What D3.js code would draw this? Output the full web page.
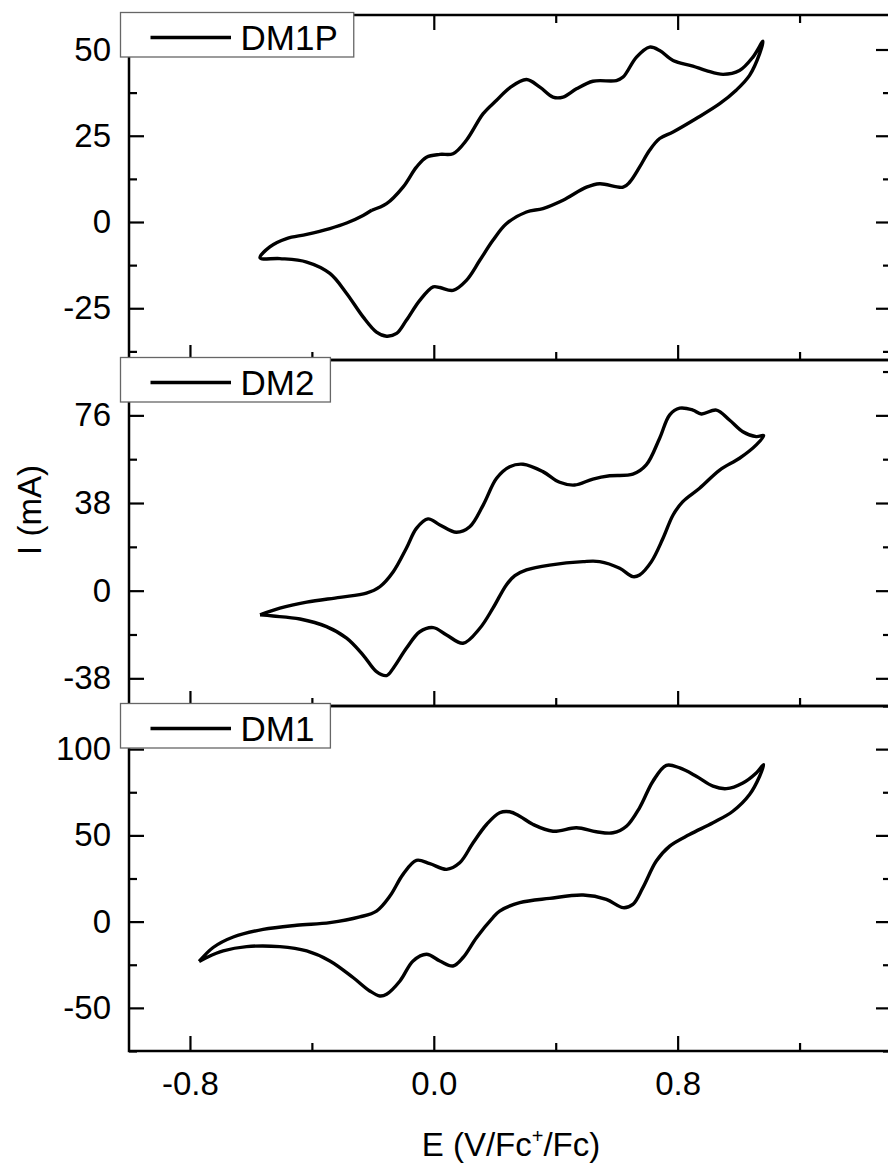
<!DOCTYPE html>
<html>
<head>
<meta charset="utf-8">
<script src="https://cdn.jsdelivr.net/npm/d3@7"></script>
<style>
  html, body { margin: 0; padding: 0; background: #fff; }
  svg { display: block; font-family: "Liberation Sans", Arial, sans-serif; }
</style>
</head>
<body>
<svg id="chart" width="888" height="1168"></svg>
<script>
// ---- data (E in V vs Fc+/Fc, I in mA) ----
const dm1pE = [-0.204,-0.155,-0.101,-0.057,-0.024,0.020,0.063,0.107,0.162,0.206,
  0.249,0.304,0.348,0.391,0.424,0.468,0.522,0.599,0.621,0.665,
  0.708,0.741,0.785,0.850,0.894,0.949,1.003,1.047,1.080,
  1.069,1.036,0.992,0.938,0.861,0.785,0.741,0.708,0.675,0.643,
  0.621,0.544,0.501,0.424,0.358,0.304,0.238,0.194,0.151,0.107,
  0.063,0.020,-0.002,-0.046,-0.090,-0.122,-0.155,-0.188,-0.232,-0.286,
  -0.341,-0.417,-0.505,-0.570,
  -0.538,-0.483,-0.417,-0.341,-0.286,-0.232,-0.204];
const dm1pI = [3.4,5.3,10.1,15.9,18.8,19.6,19.8,23.7,31.4,35.3,
  38.9,41.3,39.1,36.2,36.2,38.6,40.8,41.0,42.0,47.8,
  50.7,49.7,46.8,45.2,43.9,42.8,43.9,47.8,52.4,
  48.8,42.5,38.2,34.3,30.0,26.1,24.2,20.8,15.9,11.6,
  10.1,11.1,10.1,6.3,3.9,2.9,-0.5,-5.3,-11.1,-16.9,
  -19.8,-19.0,-18.8,-22.7,-28.5,-32.3,-33.1,-31.9,-27.5,-20.7,
  -14.9,-11.6,-10.6,-10.4,
  -7.2,-4.8,-3.6,-1.9,-0.3,1.9,3.4];

const dm2E = [-0.570,-0.505,-0.417,-0.308,-0.221,-0.177,-0.133,-0.090,-0.057,-0.019,
  0.020,0.074,0.118,0.162,0.206,0.249,0.293,0.358,0.413,0.462,
  0.522,0.577,0.653,0.697,0.741,0.774,0.807,0.850,0.878,0.927,
  0.970,1.014,1.058,1.082,
  1.058,1.003,0.938,0.872,0.817,0.785,0.752,0.714,0.675,0.653,
  0.610,0.544,0.490,0.380,0.304,0.266,0.238,0.194,0.151,0.096,
  0.042,-0.002,-0.046,-0.090,-0.133,-0.155,-0.188,-0.232,-0.286,-0.352,
  -0.439,-0.527,-0.570];
const dm2I = [-10.5,-7.6,-5.0,-2.9,-1.1,1.7,8.2,18.4,27.0,31.1,
  28.5,25.3,27.7,37.1,48.7,53.7,54.8,51.6,47.0,45.8,
  48.4,49.8,50.5,54.5,66.1,76.2,79.1,78.3,76.6,78.3,
  74.0,68.9,66.8,67.2,
  63.2,57.4,52.3,44.4,38.6,32.8,22.7,12.6,6.8,6.1,
  9.7,12.6,12.6,11.1,9.0,6.5,2.5,-7.6,-16.3,-22.8,
  -19.2,-16.0,-17.8,-25.0,-33.6,-36.8,-35.1,-27.9,-20.6,-15.6,
  -12.3,-11.0,-10.5];

const dm1E = [-0.770,-0.724,-0.658,-0.560,-0.450,-0.341,-0.243,-0.188,-0.144,-0.101,
  -0.057,-0.013,0.042,0.085,0.129,0.173,0.216,0.249,0.282,0.326,
  0.391,0.468,0.533,0.588,0.632,0.675,0.719,0.763,0.807,0.861,
  0.916,0.960,1.014,1.058,1.082,
  1.069,1.036,0.981,0.916,0.839,0.774,0.730,0.686,0.653,0.621,
  0.566,0.490,0.380,0.282,0.216,0.194,0.140,0.096,0.063,0.020,
  -0.024,-0.068,-0.111,-0.155,-0.177,-0.210,-0.265,-0.341,-0.417,-0.505,
  -0.614,-0.691,-0.745,-0.770];
const dm1I = [-23.1,-15.0,-8.9,-4.5,-2.1,-0.6,2.7,6.1,14.8,27.4,
  35.5,33.6,30.3,34.1,45.7,56.3,63.1,63.7,61.1,56.3,
  52.4,54.4,52.1,51.5,55.3,66.0,81.4,90.6,89.1,84.3,
  78.5,77.1,80.4,86.2,91.0,
  84.3,73.7,64.0,57.3,50.5,43.8,35.1,19.7,10.0,8.1,
  12.9,15.4,13.5,11.0,6.1,2.3,-9.3,-20.8,-25.7,-22.8,
  -18.9,-22.8,-34.4,-42.1,-43.1,-40.2,-32.4,-22.8,-17.0,-14.5,
  -14.5,-17.0,-20.8,-23.1];

const seriesNames = ["DM1P", "DM2", "DM1"];
const xMajor = [-0.8, 0.0, 0.8];
const xMinor = [-0.4, 0.4, 1.2];
const yDomains = [[-40, 60], [-50, 100], [-75, 125]];
const yMajors  = [[-25, 0, 25, 50], [-38, 0, 38, 76], [-50, 0, 50, 100]];
const yMinors  = [[-37.5, -12.5, 12.5, 37.5], [-19, 19, 57, 95], [-75, -25, 25, 75, 125]];

// ---- layout ----
const svg = d3.select("#chart");
const left = 129, right = 891;
const tops = [15, 360, 706], bottoms = [360, 706, 1051];
const majLen = 15, minLen = 8;
const font = 33;

const x = d3.scaleLinear().domain([-1.0, 1.5]).range([left, right]);

const curves = [d3.zip(dm1pE, dm1pI), d3.zip(dm2E, dm2I), d3.zip(dm1E, dm1I)];

function styleAxis(g) {
  g.select(".domain").remove();
  g.selectAll(".tick line").attr("stroke", "#000").attr("stroke-width", 2.2);
  g.selectAll(".tick text").attr("fill", "#000").attr("font-size", font)
    .attr("font-family", "Liberation Sans, Arial, sans-serif");
}

seriesNames.forEach((name, i) => {
  const y = d3.scaleLinear().domain(yDomains[i]).range([bottoms[i], tops[i]]);
  const g = svg.append("g");

  // curve
  g.append("path")
    .datum(curves[i])
    .attr("fill", "none")
    .attr("stroke", "#000")
    .attr("stroke-width", 3.4)
    .attr("stroke-linejoin", "round")
    .attr("d", d3.line().x(d => x(d[0])).y(d => y(d[1])).curve(d3.curveCatmullRom.alpha(0.5)));

  // left axis
  g.append("g").attr("transform", `translate(${left},0)`)
    .call(d3.axisLeft(y).tickValues(yMajors[i]).tickSize(-majLen).tickPadding(18).tickFormat(d => String(d)))
    .call(styleAxis);
  g.append("g").attr("transform", `translate(${left},0)`)
    .call(d3.axisLeft(y).tickValues(yMinors[i]).tickSize(-minLen).tickFormat(""))
    .call(styleAxis);
  // right axis
  g.append("g").attr("transform", `translate(${right},0)`)
    .call(d3.axisRight(y).tickValues(yMajors[i]).tickSize(-majLen).tickFormat(""))
    .call(styleAxis);
  g.append("g").attr("transform", `translate(${right},0)`)
    .call(d3.axisRight(y).tickValues(yMinors[i]).tickSize(-minLen).tickFormat(""))
    .call(styleAxis);

  // bottom axis
  const last = i === seriesNames.length - 1;
  g.append("g").attr("transform", `translate(0,${bottoms[i]})`)
    .call(d3.axisBottom(x).tickValues(xMajor).tickSize(-majLen).tickPadding(21)
      .tickFormat(last ? (d => d.toFixed(1)) : ""))
    .call(styleAxis);
  g.append("g").attr("transform", `translate(0,${bottoms[i]})`)
    .call(d3.axisBottom(x).tickValues(xMinor).tickSize(-minLen).tickFormat(""))
    .call(styleAxis);
  // top ticks only on the first panel
  if (i === 0) {
    g.append("g").attr("transform", `translate(0,${tops[i]})`)
      .call(d3.axisTop(x).tickValues(xMajor).tickSize(-majLen).tickFormat(""))
      .call(styleAxis);
    g.append("g").attr("transform", `translate(0,${tops[i]})`)
      .call(d3.axisTop(x).tickValues(xMinor).tickSize(-minLen).tickFormat(""))
      .call(styleAxis);
  }

  // frame
  g.append("rect")
    .attr("x", left).attr("y", tops[i])
    .attr("width", right - left).attr("height", bottoms[i] - tops[i])
    .attr("fill", "none").attr("stroke", "#000").attr("stroke-width", 2.5);

  // legend
  const lg = g.append("g").attr("transform", `translate(120.5,${tops[i] - 2.5})`);
  const box = lg.append("rect")
    .attr("x", 0).attr("y", 0).attr("height", 44.5)
    .attr("fill", "#fff").attr("stroke", "#666").attr("stroke-width", 1.3);
  lg.append("line")
    .attr("x1", 30).attr("x2", 110.5).attr("y1", 25).attr("y2", 25)
    .attr("stroke", "#000").attr("stroke-width", 3.4);
  const t = lg.append("text")
    .attr("x", 120).attr("y", 37.5)
    .attr("font-size", 35).attr("fill", "#000")
    .text(name);
  box.attr("width", 120 + t.node().getComputedTextLength() + 16);
});

// axis titles
svg.append("text")
  .attr("transform", "translate(41,510) rotate(-90)")
  .attr("text-anchor", "middle")
  .attr("font-size", 33)
  .text("I (mA)");

const xt = svg.append("text")
  .attr("x", 511).attr("y", 1156)
  .attr("text-anchor", "middle")
  .attr("font-size", 33);
xt.append("tspan").text("E (V/Fc");
xt.append("tspan").attr("dy", -13).attr("font-size", 20).text("+");
xt.append("tspan").attr("dy", 13).text("/Fc)");
</script>
</body>
</html>
